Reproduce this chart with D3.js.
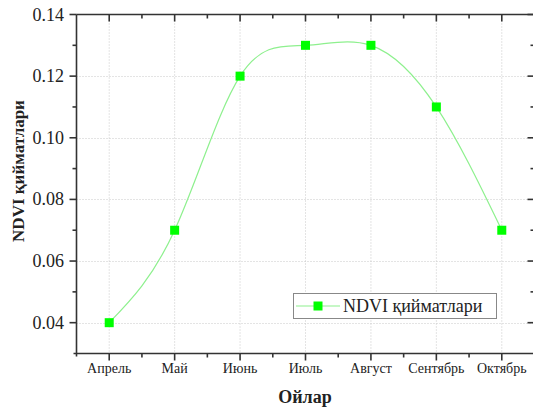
<!DOCTYPE html>
<html><head><meta charset="utf-8">
<script src="https://cdn.jsdelivr.net/npm/d3@7"></script>
<style>body{margin:0;background:#fff}svg{display:block}</style>
</head><body>
<script>
const months = ["Апрель","Май","Июнь","Июль","Август","Сентябрь","Октябрь"];
const ndvi = [0.04,0.07,0.12,0.13,0.13,0.11,0.07];
const yTicks = [0.04,0.06,0.08,0.10,0.12,0.14];
const seriesName = "NDVI қийматлари";
const xTitle = "Ойлар";
const yTitle = "NDVI қийматлари";

const W=533,H=409;
const m={left:76.5,top:14.5,right:534.5,bottom:353.5};
const svg=d3.select("body").append("svg").attr("width",W).attr("height",H);
const font="'Liberation Serif','Times New Roman',serif";

const x=d3.scaleLinear().domain([0.5,months.length+0.5]).range([m.left,m.right]);
const y=d3.scaleLinear().domain([0.03,0.14]).range([m.bottom,m.top]);
const idx=d3.range(months.length);
const minorX=d3.range(1,months.length).map(i=>i+0.5);
const minorY=d3.range(0.03,0.14,0.02).map(v=>+v.toFixed(3)).filter(v=>v>0.03);

// grid
const g=svg.append("g");
g.selectAll(".gx").data(idx).join("line")
 .attr("x1",i=>x(i+1)).attr("x2",i=>x(i+1)).attr("y1",m.top).attr("y2",m.bottom)
 .attr("stroke","#c8c8c8").attr("stroke-dasharray","1,2");
g.selectAll(".gy").data(yTicks.slice(0,-1)).join("line")
 .attr("x1",m.left).attr("x2",m.right).attr("y1",d=>Math.round(y(d))+0.5).attr("y2",d=>Math.round(y(d))+0.5)
 .attr("stroke","#c8c8c8").attr("stroke-dasharray","1,2");

// axes
const ax=svg.append("g").attr("stroke","#333").attr("stroke-width",1.6);
ax.append("line").attr("x1",m.left-3).attr("x2",m.right).attr("y1",m.bottom).attr("y2",m.bottom);
ax.append("line").attr("x1",m.left).attr("x2",m.right).attr("y1",m.top).attr("y2",m.top);
ax.append("line").attr("x1",m.left).attr("x2",m.left).attr("y1",m.top).attr("y2",m.bottom+3);
ax.append("line").attr("x1",m.right).attr("x2",m.right).attr("y1",m.top).attr("y2",m.bottom);
// bottom ticks
ax.selectAll(".bt").data(idx).join("line").attr("x1",i=>x(i+1)).attr("x2",i=>x(i+1)).attr("y1",m.bottom).attr("y2",m.bottom+7);
ax.selectAll(".bm").data(minorX).join("line").attr("x1",d=>x(d)).attr("x2",d=>x(d)).attr("y1",m.bottom).attr("y2",m.bottom+4);
// top ticks inward
ax.selectAll(".tt").data(idx).join("line").attr("x1",i=>x(i+1)).attr("x2",i=>x(i+1)).attr("y1",m.top).attr("y2",m.top+7);
ax.selectAll(".tm").data(minorX).join("line").attr("x1",d=>x(d)).attr("x2",d=>x(d)).attr("y1",m.top).attr("y2",m.top+4);
// left ticks
ax.selectAll(".lt").data(yTicks).join("line").attr("x1",m.left-7).attr("x2",m.left).attr("y1",d=>y(d)).attr("y2",d=>y(d));
ax.selectAll(".lm").data(minorY).join("line").attr("x1",m.left-4).attr("x2",m.left).attr("y1",d=>y(d)).attr("y2",d=>y(d));
// right ticks inward
ax.selectAll(".rt").data(yTicks).join("line").attr("x1",m.right-7).attr("x2",m.right).attr("y1",d=>y(d)).attr("y2",d=>y(d));
ax.selectAll(".rm").data(minorY).join("line").attr("x1",m.right-4).attr("x2",m.right).attr("y1",d=>y(d)).attr("y2",d=>y(d));

// labels
svg.selectAll(".yl").data(yTicks).join("text")
 .attr("x",64).attr("y",d=>y(d)+6).attr("text-anchor","end")
 .attr("font-family",font).attr("font-size",18).attr("fill","#222").text(d=>d.toFixed(2));
svg.selectAll(".xl").data(idx).join("text")
 .attr("x",i=>x(i+1)).attr("y",373).attr("text-anchor","middle")
 .attr("font-family",font).attr("font-size",14).attr("fill","#222").text(i=>months[i]);
svg.append("text").attr("x",305).attr("y",403).attr("text-anchor","middle")
 .attr("font-family",font).attr("font-size",18).attr("font-weight","bold").attr("fill","#222").text(xTitle);
svg.append("text").attr("transform","translate(24,171) rotate(-90)").attr("text-anchor","middle")
 .attr("font-family",font).attr("font-size",17).attr("font-weight","bold").attr("fill","#222").text(yTitle);

// series
const line=d3.line().x((d,i)=>x(i+1)).y(d=>y(d)).curve(d3.curveNatural);
svg.append("path").datum(ndvi).attr("d",line).attr("fill","none").attr("stroke","#8ef08e").attr("stroke-width",1.2);
svg.selectAll(".pt").data(ndvi).join("rect")
 .attr("x",(d,i)=>x(i+1)-4.5).attr("y",d=>y(d)-4.5).attr("width",9).attr("height",9).attr("fill","#00ff00");

// legend
const lg=svg.append("g");
lg.append("rect").attr("x",293.5).attr("y",293.5).attr("width",203).attr("height",25).attr("fill","#fff").attr("stroke","#888");
lg.append("line").attr("x1",296).attr("x2",340).attr("y1",306).attr("y2",306).attr("stroke","#8ef08e").attr("stroke-width",1.2);
lg.append("rect").attr("x",318-4.5).attr("y",306-4.5).attr("width",9).attr("height",9).attr("fill","#00ff00");
lg.append("text").attr("x",343).attr("y",312).attr("font-family",font).attr("font-size",18).attr("fill","#222").text(seriesName);
</script>
</body></html>
